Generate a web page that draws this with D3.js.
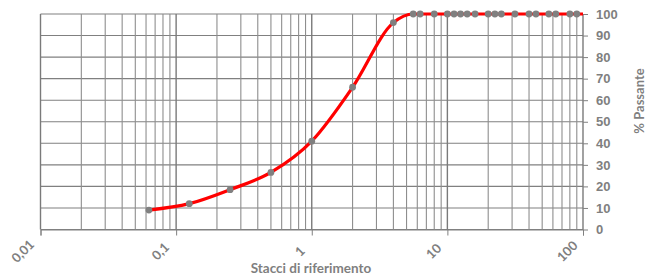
<!DOCTYPE html>
<html>
<head>
<meta charset="utf-8">
<script src="https://cdn.jsdelivr.net/npm/d3@7"></script>
<style>
  body { margin: 0; background: #fff; }
  svg { display: block; font-family: Lato, 'Open Sans', sans-serif; }
  .lbl { fill: #7f7f7f; font-weight: bold; font-size: 13px; }
  .ttl { fill: #7f7f7f; font-weight: bold; font-size: 13.5px; }
</style>
</head>
<body>
<svg id="vis" width="647" height="276"></svg>
<script>
// sieve sizes (mm) and % passing
const sieves = [0.063, 0.125, 0.25, 0.5, 1, 2, 4, 5.6, 6.3, 8, 10, 11.2, 12.5, 14, 16,
  20, 22.4, 25, 31.5, 40, 45, 56, 63, 80, 90, 100];
const passing = [9, 12, 18.5, 26.5, 41, 66, 96, 100, 100, 100, 100, 100, 100, 100, 100,
  100, 100, 100, 100, 100, 100, 100, 100, 100, 100, 100];
const xTicks = [0.01, 0.1, 1, 10, 100];
const xTickLabels = ['0,01', '0,1', '1', '10', '100'];
const yTicks = [0, 10, 20, 30, 40, 50, 60, 70, 80, 90, 100];

const svg = d3.select('#vis');

const x = d3.scaleLog().domain([0.01, 100]).range([40.5, 583]);
const y = d3.scaleLinear().domain([0, 100]).range([229.5, 14]);

// minor log positions 2..9 per decade
const minor = [];
for (let e = -2; e < 2; e++) {
  for (let m = 2; m <= 9; m++) minor.push(m * Math.pow(10, e));
}

const grid = svg.append('g');
grid.selectAll('.hmin').data(yTicks).enter().append('line')
    .attr('x1', x(0.01)).attr('x2', x(100))
    .attr('y1', d => y(d)).attr('y2', d => y(d))
    .attr('stroke', '#808080').attr('stroke-width', 1.1);
grid.selectAll('.vmin').data(minor).enter().append('line')
    .attr('x1', d => x(d)).attr('x2', d => x(d))
    .attr('y1', y(0)).attr('y2', y(100))
    .attr('stroke', '#8e8e8e').attr('stroke-width', 1.1);
grid.selectAll('.vmaj').data(xTicks).enter().append('line')
    .attr('x1', d => x(d)).attr('x2', d => x(d))
    .attr('y1', y(0)).attr('y2', y(100))
    .attr('stroke', '#7a7a7a').attr('stroke-width', 1.4);

// bottom axis
const xAxis = d3.axisBottom(x).tickValues(xTicks).tickSize(6).tickFormat('');
svg.append('g').attr('transform', `translate(0,${y(0)})`).call(xAxis)
  .call(g => g.selectAll('line, path').attr('stroke', '#808080'));

// right axis
const yAxis = d3.axisRight(y).tickValues(yTicks).tickSize(5).tickPadding(8);
svg.append('g').attr('transform', `translate(${x(100)},0)`).call(yAxis)
  .call(g => g.select('.domain').remove())
  .call(g => g.selectAll('line').attr('stroke', '#808080'))
  .call(g => g.selectAll('text').attr('class', 'lbl').attr('font-family', null).attr('font-size', null));

// rotated x labels
svg.selectAll('.xl').data(xTicks).enter().append('text')
    .attr('class', 'lbl')
    .attr('text-anchor', 'middle')
    .attr('dominant-baseline', 'central')
    .attr('transform', (d, i) => `translate(${x(d) - 10 - xTickLabels[i].length * 2},251) rotate(-45)`)
    .text((d, i) => xTickLabels[i]);

svg.append('text').attr('class', 'ttl')
    .attr('x', 311).attr('y', 273).attr('text-anchor', 'middle')
    .text('Stacci di riferimento');

svg.append('text').attr('class', 'lbl')
    .attr('text-anchor', 'middle').attr('dominant-baseline', 'central')
    .attr('transform', 'translate(639,101) rotate(-90)')
    .text('% Passante');

const pts = sieves.map((s, i) => ({s, p: passing[i]}));

const line = d3.line()
    .x(d => x(d.s)).y(d => y(d.p))
    .curve(d3.curveMonotoneX);
svg.append('path').datum(pts)
    .attr('d', line)
    .attr('fill', 'none')
    .attr('stroke', '#ff0000')
    .attr('stroke-width', 3.2);

svg.selectAll('.pt').data(pts.filter(d => d.s < 100)).enter().append('circle')
    .attr('cx', d => x(d.s)).attr('cy', d => y(d.p))
    .attr('r', 3.4)
    .attr('fill', '#808080');
</script>
</body>
</html>
